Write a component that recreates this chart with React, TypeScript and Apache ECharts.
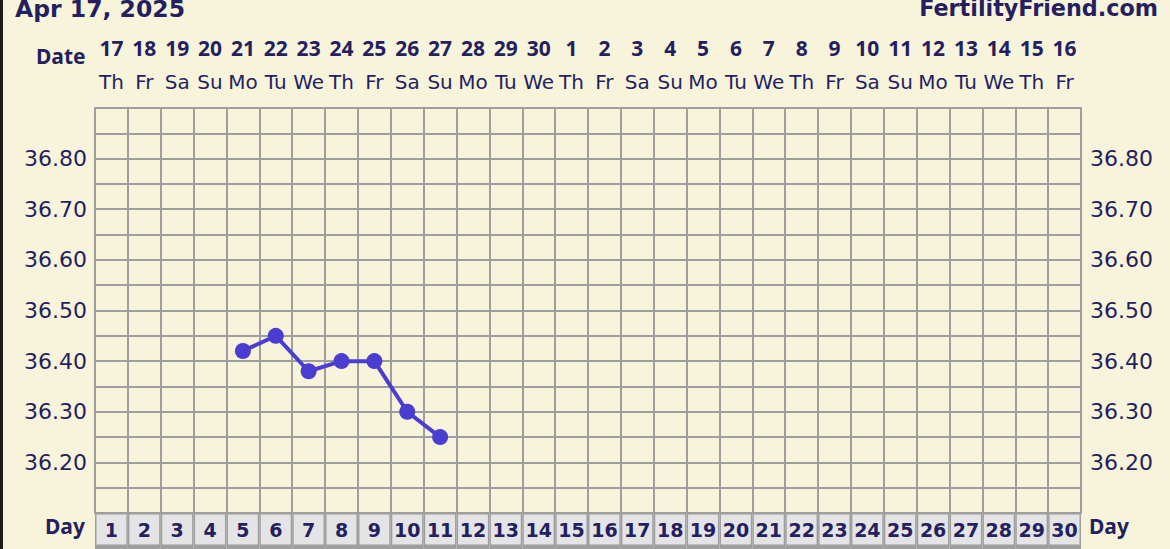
import React, { useEffect, useRef } from "react";
import * as echarts from "echarts";

const chartTitle = "Apr 17, 2025";
const siteName = "FertilityFriend.com";
const dates = ["17","18","19","20","21","22","23","24","25","26","27","28","29","30","1","2","3","4","5","6","7","8","9","10","11","12","13","14","15","16"];
const weekdays = ["Th","Fr","Sa","Su","Mo","Tu","We","Th","Fr","Sa","Su","Mo","Tu","We","Th","Fr","Sa","Su","Mo","Tu","We","Th","Fr","Sa","Su","Mo","Tu","We","Th","Fr"];
const cycleDays = ["1","2","3","4","5","6","7","8","9","10","11","12","13","14","15","16","17","18","19","20","21","22","23","24","25","26","27","28","29","30"];
const temperatures: (number | null)[] = [null, null, null, null, 36.42, 36.45, 36.38, 36.40, 36.40, 36.30, 36.25, null, null, null, null, null, null, null, null, null, null, null, null, null, null, null, null, null, null, null];
const periodDays = [1, 2, 3, 4, 5, 6];
const yLabelValues = [36.2, 36.3, 36.4, 36.5, 36.6, 36.7, 36.8];

const NAVY = "#241f5e";
const GRID = "#9e9e9e";
const BG = "#f8f4dc";

export default function App() {
  const ref = useRef<HTMLDivElement>(null);
  useEffect(() => {
    if (!ref.current) return;
    const chart = echarts.init(ref.current, null, { renderer: "svg" });
    const labelFmt = (v: number) =>
      yLabelValues.some((t) => Math.abs(t - v) < 1e-6) ? v.toFixed(2) : "";
    const xLabels = dates.map((d, i) => `${d}|${weekdays[i]}`);
    chart.setOption({
      animation: false,
      backgroundColor: BG,
      grid: [
        { left: 95, top: 108, width: 986, height: 405 },
        { left: 95, top: 513, width: 986, height: 33 },
        { left: 95, top: 546, width: 986, height: 12 },
      ],
      xAxis: [
        {
          type: "category",
          gridIndex: 0,
          position: "top",
          data: xLabels,
          boundaryGap: true,
          axisLine: { show: true, lineStyle: { color: GRID, width: 2 } },
          axisTick: { show: false },
          splitLine: { show: true, lineStyle: { color: GRID, width: 2 } },
          axisLabel: {
            interval: 0,
            margin: 9,
            formatter: (v: string) => {
              const [d, w] = v.split("|");
              return `{d|${d}}\n{w|${w}}`;
            },
            rich: {
              d: { fontFamily: "Noto Sans", fontWeight: "bold", fontSize: 21, color: NAVY, lineHeight: 34 },
              w: { fontFamily: "DejaVu Sans", fontSize: 20, color: NAVY, lineHeight: 34 },
            },
          },
        },
        { type: "category", gridIndex: 1, data: cycleDays, show: false },
        { type: "category", gridIndex: 2, data: cycleDays, show: false },
      ],
      yAxis: [
        {
          type: "value",
          gridIndex: 0,
          min: 36.1,
          max: 36.9,
          interval: 0.05,
          axisLine: { show: true, lineStyle: { color: GRID, width: 2 } },
          axisTick: { show: false },
          splitLine: { show: true, lineStyle: { color: GRID, width: 2 } },
          axisLabel: {
            margin: 8,
            formatter: labelFmt,
            fontFamily: "DejaVu Sans",
            fontSize: 22,
            color: NAVY,
          },
        },
        {
          type: "value",
          gridIndex: 0,
          position: "right",
          min: 36.1,
          max: 36.9,
          interval: 0.05,
          axisLine: { show: true, lineStyle: { color: GRID, width: 2 } },
          axisTick: { show: false },
          splitLine: { show: false },
          axisLabel: {
            margin: 9,
            formatter: labelFmt,
            fontFamily: "DejaVu Sans",
            fontSize: 22,
            color: NAVY,
          },
        },
        { type: "value", gridIndex: 1, min: 0, max: 1, show: false },
        { type: "value", gridIndex: 2, min: 0, max: 1, show: false },
      ],
      series: [
        {
          type: "line",
          xAxisIndex: 0,
          yAxisIndex: 0,
          data: temperatures,
          connectNulls: false,
          symbol: "circle",
          symbolSize: 16,
          lineStyle: { color: "#4a3dcf", width: 4 },
          itemStyle: { color: "#4a3dcf" },
        },
        {
          type: "bar",
          xAxisIndex: 1,
          yAxisIndex: 2,
          data: cycleDays.map(() => 1),
          barCategoryGap: "0%",
          itemStyle: { color: "#e4e4e6", borderColor: GRID, borderWidth: 1.5 },
          label: {
            show: true,
            position: "inside",
            formatter: (p: any) => cycleDays[p.dataIndex],
            fontFamily: "DejaVu Sans",
            fontWeight: "bold",
            fontSize: 19,
            color: NAVY,
          },
        },
        {
          type: "bar",
          xAxisIndex: 2,
          yAxisIndex: 3,
          data: cycleDays.map((d) => ({
            value: 1,
            itemStyle: { color: periodDays.includes(Number(d)) ? "#f3c3d3" : "#ffffff" },
          })),
          barCategoryGap: "0%",
          itemStyle: { borderColor: GRID, borderWidth: 1.5 },
        },
      ],
      graphic: [
        { type: "rect", left: 0, top: 0, shape: { width: 3, height: 549 }, style: { fill: "#1b1b1b" } },
        {
          type: "text",
          left: 15,
          top: -3,
          style: { text: chartTitle, fontFamily: "DejaVu Sans", fontWeight: "bold", fontSize: 23.5, fill: NAVY },
        },
        {
          type: "text",
          right: 12,
          top: -3,
          style: { text: siteName, fontFamily: "DejaVu Sans", fontWeight: "bold", fontSize: 22.3, fill: NAVY },
        },
        {
          type: "text",
          left: 36,
          top: 45,
          style: { text: "Date", fontFamily: "Noto Sans", fontWeight: "bold", fontSize: 21, fill: NAVY },
        },
        {
          type: "text",
          left: 45,
          top: 515,
          style: { text: "Day", fontFamily: "Noto Sans", fontWeight: "bold", fontSize: 21, fill: NAVY },
        },
        {
          type: "text",
          left: 1089,
          top: 515,
          style: { text: "Day", fontFamily: "Noto Sans", fontWeight: "bold", fontSize: 21, fill: NAVY },
        },
      ],
    });
    return () => chart.dispose();
  }, []);
  return (
    <div
      ref={ref}
      style={{ position: "fixed", left: 0, top: 0, width: 1170, height: 549 }}
    />
  );
}
